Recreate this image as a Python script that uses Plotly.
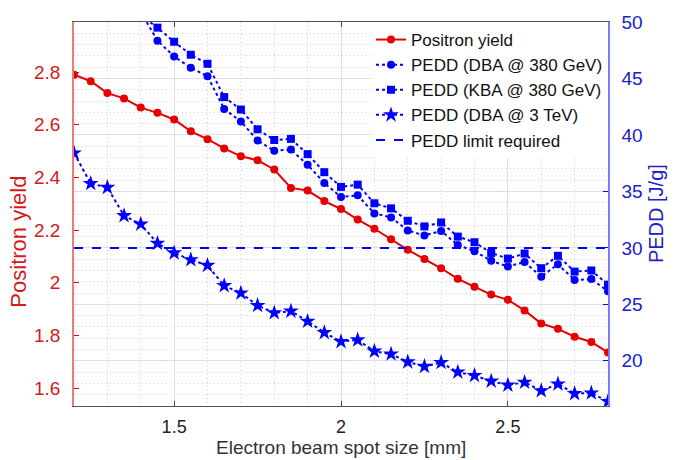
import plotly.graph_objects as go

# Electron beam spot size [mm]
spot_size = [1.20, 1.25, 1.30, 1.35, 1.40, 1.45, 1.50, 1.55, 1.60, 1.65, 1.70,
             1.75, 1.80, 1.85, 1.90, 1.95, 2.00, 2.05, 2.10, 2.15, 2.20, 2.25,
             2.30, 2.35, 2.40, 2.45, 2.50, 2.55, 2.60, 2.65, 2.70, 2.75, 2.80]

# Positron yield (left axis)
positron_yield = [2.79, 2.765, 2.72, 2.70, 2.665, 2.645, 2.62, 2.575, 2.545, 2.51,
                  2.48, 2.465, 2.43, 2.36, 2.35, 2.31, 2.28, 2.24, 2.205, 2.165,
                  2.125, 2.09, 2.055, 2.015, 1.985, 1.955, 1.935, 1.895, 1.845,
                  1.825, 1.795, 1.775, 1.735]

# PEDD [J/g] (right axis); the 380 GeV scans start at 1.40 mm
spot_size_380 = spot_size[4:]
pedd_dba_380 = [50.9, 48.35, 46.95, 45.95, 45.2, 42.3, 41.2, 39.5, 38.6, 38.7,
                37.35, 35.75, 34.5, 34.65, 33.05, 32.7, 31.55, 31.1, 31.5, 30.25,
                29.7, 28.85, 28.35, 28.75, 27.45, 28.55, 27.15, 27.25, 26.15]
pedd_kba_380 = [50.6, 49.5, 48.25, 47.1, 46.3, 43.35, 42.25, 40.5, 39.55, 39.65,
                38.3, 36.7, 35.4, 35.6, 33.95, 33.5, 32.4, 31.9, 32.25, 31.0,
                30.5, 29.55, 29.05, 29.5, 28.2, 29.3, 27.9, 28.0, 26.75]
pedd_dba_3tev = [38.4, 35.7, 35.35, 32.85, 32.1, 30.4, 29.55, 28.95, 28.45, 26.65,
                 26.0, 24.9, 24.25, 24.4, 23.5, 22.5, 21.7, 21.85, 20.85, 20.6,
                 19.9, 19.5, 19.85, 19.0, 18.7, 18.2, 17.85, 18.1, 17.35, 17.95,
                 17.1, 17.15, 16.4]
pedd_limit = 30

x_ticks = [1.5, 2.0, 2.5]
x_tick_text = ["1.5", "2", "2.5"]
yield_ticks = [1.6, 1.8, 2.0, 2.2, 2.4, 2.6, 2.8]
yield_tick_text = ["1.6", "1.8", "2", "2.2", "2.4", "2.6", "2.8"]
pedd_ticks = [20, 25, 30, 35, 40, 45, 50]

RED = "#e60000"
BLUE = "#0000ff"
FONT = "Liberation Sans, Arial, Helvetica, sans-serif"

fig = go.Figure()

fig.add_trace(go.Scatter(
    x=spot_size, y=positron_yield, name="Positron yield", mode="lines+markers",
    line=dict(color=RED, width=2), marker=dict(symbol="circle", size=8, color=RED),
    yaxis="y"))

fig.add_trace(go.Scatter(
    x=spot_size_380, y=pedd_dba_380, name="PEDD (DBA @ 380 GeV)", mode="lines+markers",
    line=dict(color=BLUE, width=2, dash="dot"),
    marker=dict(symbol="circle", size=8, color=BLUE), yaxis="y2"))

fig.add_trace(go.Scatter(
    x=spot_size_380, y=pedd_kba_380, name="PEDD (KBA @ 380 GeV)", mode="lines+markers",
    line=dict(color=BLUE, width=2, dash="dot"),
    marker=dict(symbol="square", size=8, color=BLUE), yaxis="y2"))

fig.add_trace(go.Scatter(
    x=spot_size, y=pedd_dba_3tev, name="PEDD (DBA @ 3 TeV)", mode="lines+markers",
    line=dict(color=BLUE, width=2, dash="dot"),
    marker=dict(symbol="star", size=12, color=BLUE), yaxis="y2"))

fig.add_trace(go.Scatter(
    x=[spot_size[0], spot_size[-1]], y=[pedd_limit, pedd_limit],
    name="PEDD limit required", mode="lines",
    line=dict(color=BLUE, width=2, dash="dash"), yaxis="y2"))

fig.update_layout(
    width=678, height=460,
    margin=dict(l=74, r=70, t=16, b=54),
    paper_bgcolor="white", plot_bgcolor="white",
    font=dict(family=FONT, size=19, color="#262626"),
    showlegend=True,
    legend=dict(x=1, xanchor="right", y=1, yanchor="top",
                bgcolor="white", borderwidth=0,
                font=dict(family=FONT, size=17, color="#111111"),
                tracegroupgap=0),
    xaxis=dict(
        range=[1.2, 2.8], tickvals=x_ticks, ticktext=x_tick_text,
        ticks="inside", ticklen=5, tickcolor="#444444",
        showline=True, linecolor="#555555", linewidth=1, mirror="ticks",
        showgrid=True, gridcolor="#dcdcf2", gridwidth=1,
        minor=dict(dtick=0.1, tick0=1.2, showgrid=True, gridcolor="#cfcfcf",
                   griddash="1px,3px", gridwidth=1),
        zeroline=False, ticklabelstandoff=4,
        tickfont=dict(size=18, color="#222222")),
    yaxis=dict(
        range=[1.532, 2.99], tickvals=yield_ticks, ticktext=yield_tick_text,
        ticks="inside", ticklen=5, tickcolor=RED,
        showline=True, linecolor="#f07878", linewidth=1.5,
        showgrid=False, zeroline=False, ticklabelstandoff=8,
        tickfont=dict(size=19, color="#d41a1a")),
    yaxis2=dict(
        range=[16, 50], tickvals=pedd_ticks, overlaying="y", side="right",
        ticks="inside", ticklen=5, tickcolor=BLUE,
        showline=True, linecolor="#7b7bff", linewidth=1.5,
        showgrid=True, gridcolor="#dcdcf2", gridwidth=1,
        minor=dict(dtick=1, tick0=16, showgrid=True, gridcolor="#cfcfcf",
                   griddash="1px,3px", gridwidth=1),
        zeroline=False, ticklabelstandoff=8,
        tickfont=dict(size=19, color="#2020c8")),
    annotations=[
        dict(text="Positron yield", xref="paper", yref="paper",
             x=-0.103, y=0.428, textangle=-90, showarrow=False,
             xanchor="center", yanchor="middle",
             font=dict(family=FONT, size=22, color="#d41a1a")),
        dict(text="PEDD [J/g]", xref="paper", yref="paper",
             x=1.09, y=0.5, textangle=-90, showarrow=False,
             xanchor="center", yanchor="middle",
             font=dict(family=FONT, size=20, color="#2020c8")),
        dict(text="Electron beam spot size [mm]", xref="paper", yref="paper",
             x=0.5, y=-0.108, showarrow=False,
             xanchor="center", yanchor="middle",
             font=dict(family=FONT, size=19, color="#333333")),
    ],
)

fig.write_html("out.html")
